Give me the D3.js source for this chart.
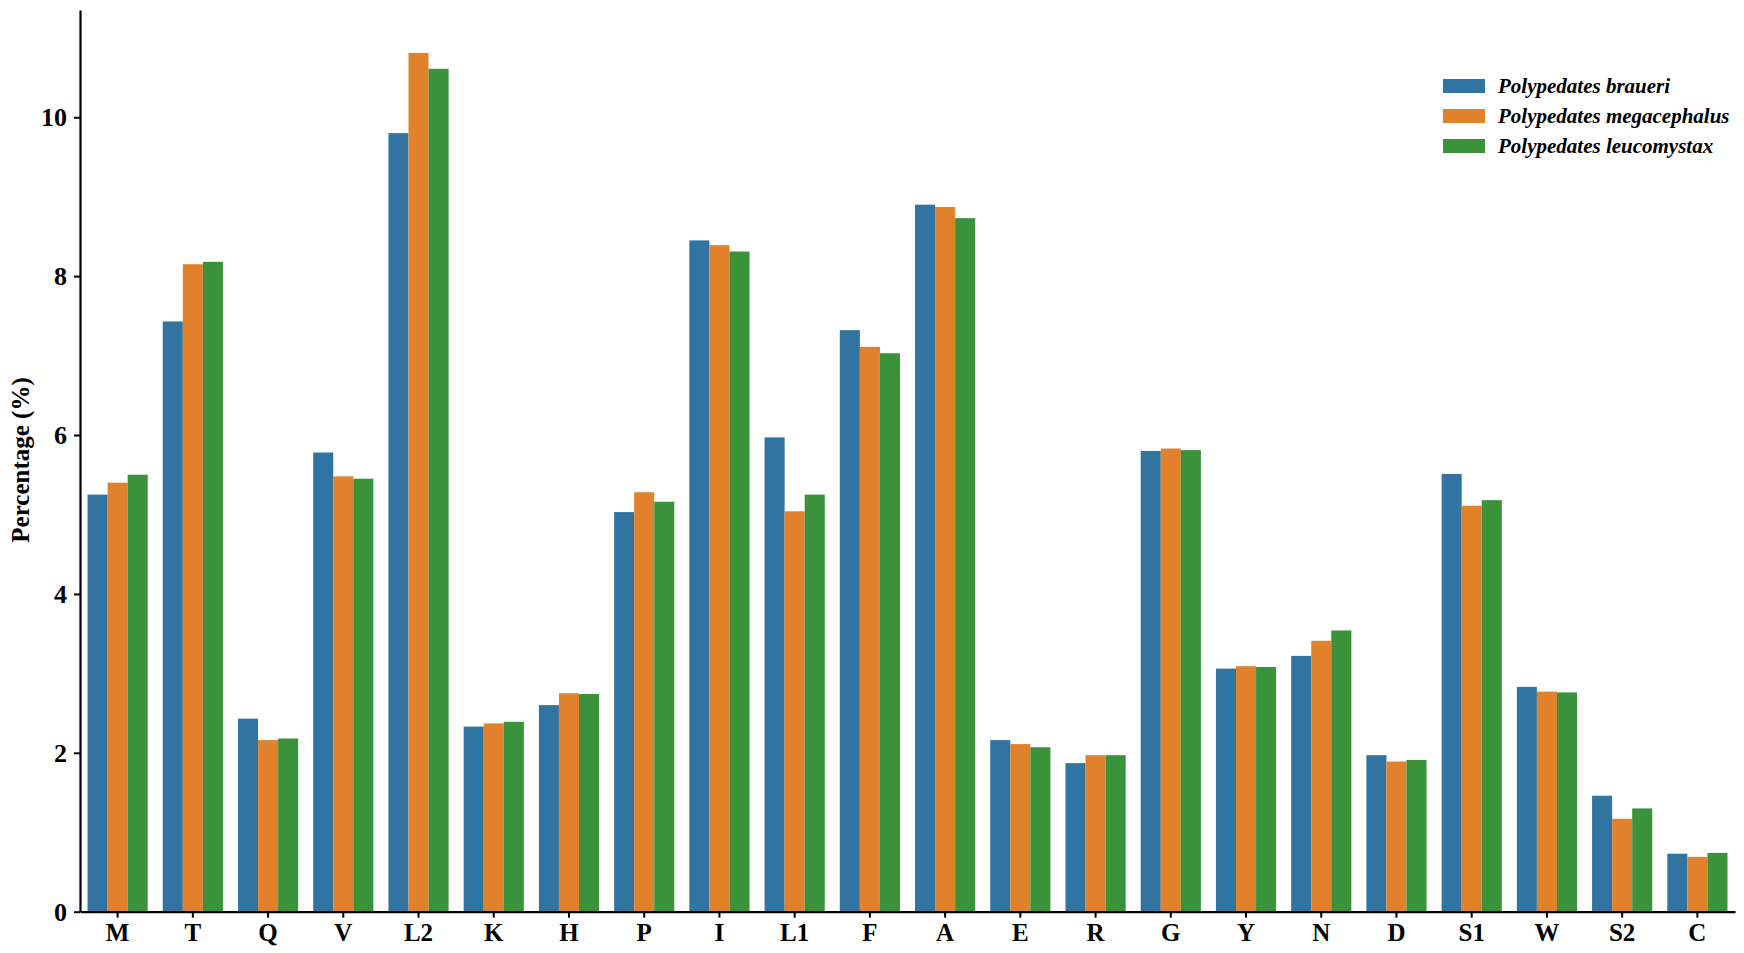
<!DOCTYPE html>
<html>
<head>
<meta charset="utf-8">
<script src="https://cdn.jsdelivr.net/npm/d3@7"></script>
<style>
  html, body { margin: 0; padding: 0; background: #fff; }
  svg { display: block; }
  text { font-family: "Liberation Serif", "Times New Roman", serif; font-weight: bold; fill: #000; }
</style>
</head>
<body>
<svg id="chart" width="1744" height="953"></svg>
<script>
const categories = ["M","T","Q","V","L2","K","H","P","I","L1","F","A","E","R","G","Y","N","D","S1","W","S2","C"];
const seriesNames = ["Polypedates braueri","Polypedates megacephalus","Polypedates leucomystax"];
const braueri      = [5.25,7.43,2.43,5.78,9.80,2.33,2.60,5.03,8.45,5.97,7.32,8.90,2.16,1.87,5.80,3.06,3.22,1.97,5.51,2.83,1.46,0.73];
const megacephalus = [5.40,8.15,2.16,5.48,10.81,2.37,2.75,5.28,8.39,5.04,7.11,8.87,2.11,1.97,5.83,3.09,3.41,1.89,5.11,2.77,1.17,0.69];
const leucomystax  = [5.50,8.18,2.18,5.45,10.61,2.39,2.74,5.16,8.31,5.25,7.03,8.73,2.07,1.97,5.81,3.08,3.54,1.91,5.18,2.76,1.30,0.74];
const yTicks = [0,2,4,6,8,10];
const colors = ["#3274a1","#e1812c","#3a923a"];
const yLabel = "Percentage (%)";

const seriesValues = [braueri, megacephalus, leucomystax];
const data = categories.map((c, i) => ({cat: c, vals: seriesValues.map((s, j) => ({key: seriesNames[j], value: s[i], idx: j}))}));

const svg = d3.select("#chart");
const mLeft = 80, mRight = 1735, mBottom = 911.7, mTop = 10;

const x = d3.scaleBand().domain(categories).range([mLeft, mRight]).paddingInner(0.2).paddingOuter(0.1);
const x1 = d3.scaleBand().domain(seriesNames).range([0, x.bandwidth()]).padding(0);
const y = d3.scaleLinear().domain([0, 11.35]).range([mBottom, mTop]);
const color = d3.scaleOrdinal().domain(seriesNames).range(colors);

// bars
const groups = svg.append("g").selectAll("g").data(data).join("g")
  .attr("transform", d => `translate(${x(d.cat)},0)`);
groups.selectAll("rect").data(d => d.vals).join("rect")
  .attr("x", d => x1(d.key))
  .attr("width", x1.bandwidth())
  .attr("y", d => y(d.value))
  .attr("height", d => y(0) - y(d.value))
  .attr("fill", d => color(d.key));

// axes
const xAxis = svg.append("g").attr("transform", `translate(0,${mBottom})`)
  .call(d3.axisBottom(x).tickSize(6).tickSizeOuter(0).tickPadding(6));
xAxis.select(".domain").attr("stroke", "#000").attr("stroke-width", 2.2);
xAxis.selectAll(".tick line").attr("stroke", "#000").attr("stroke-width", 2);
xAxis.selectAll(".tick text").attr("font-size", 25).attr("font-family", "Liberation Serif").attr("font-weight", "bold").attr("fill", "#000");

const yAxis = svg.append("g").attr("transform", `translate(${mLeft},0)`)
  .call(d3.axisLeft(y).tickValues(yTicks).tickSize(6).tickSizeOuter(0).tickPadding(7).tickFormat(d3.format("d")));
yAxis.select(".domain").attr("stroke", "#000").attr("stroke-width", 2.2);
yAxis.selectAll(".tick line").attr("stroke", "#000").attr("stroke-width", 2);
yAxis.selectAll(".tick text").attr("font-size", 26).attr("font-family", "Liberation Serif").attr("font-weight", "bold").attr("fill", "#000");

// y label
svg.append("text")
  .attr("transform", "translate(20,460) rotate(-90)")
  .attr("text-anchor", "middle")
  .attr("dominant-baseline", "central")
  .attr("font-size", 25)
  .text(yLabel);

// legend
const legend = svg.append("g").attr("transform", "translate(1443,86)");
const li = legend.selectAll("g").data(seriesNames).join("g")
  .attr("transform", (d, i) => `translate(0,${i * 30})`);
li.append("rect").attr("x", 0).attr("y", -7).attr("width", 42).attr("height", 14).attr("fill", d => color(d));
li.append("text").attr("x", 55).attr("y", 0).attr("dominant-baseline", "central")
  .attr("font-size", 21).attr("font-style", "italic").text(d => d);
</script>
</body>
</html>
